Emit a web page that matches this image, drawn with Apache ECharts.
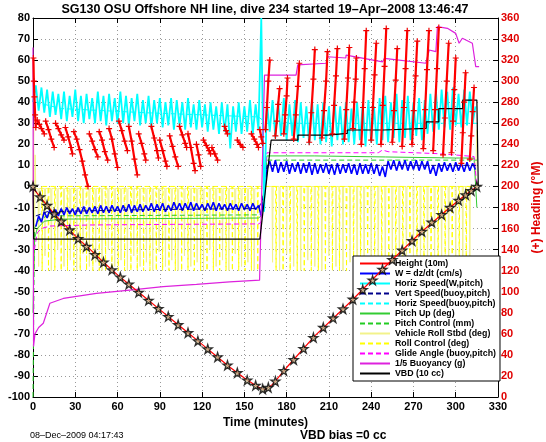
<!DOCTYPE html>
<html><head><meta charset="utf-8">
<script src="https://cdn.jsdelivr.net/npm/echarts/dist/echarts.min.js"></script>
<style>html,body{margin:0;padding:0;background:#fff}#c{width:546px;height:442px}</style>
</head><body><div id="c"></div>
<script>
// ---------- DATA ----------
const xTicks = [0,30,60,90,120,150,180,210,240,270,300,330];
const leftTicks = [80,70,60,50,40,30,20,10,0,-10,-20,-30,-40,-50,-60,-70,-80,-90,-100];
const rightTicks = [360,340,320,300,280,260,240,220,200,180,160,140,120,100,80,60,40,20,0];

// sample times (minutes) for the dense, noisy traces
const minutes = [0,2,4,6,8,10,12,14,16,18, 20,22,24,26,28,30,32,34,36,38,
 40,42,44,46,48,50,52,54,56,58, 60,62,64,66,68,70,72,74,76,78,
 80,82,84,86,88,90,92,94,96,98, 100,102,104,106,108,110,112,114,116,118,
 120,122,124,126,128,130,132,134,136,138, 140,142,144,146,148,150,152,154,156,158,
 160,162,164,166,168,170,172,174,176,178, 180,182,184,186,188,190,192,194,196,198,
 200,202,204,206,208,210,212,214,216,218, 220,222,224,226,228,230,232,234,236,238,
 240,242,244,246,248,250,252,254,256,258, 260,262,264,266,268,270,272,274,276,278,
 280,282,284,286,288,290,292,294,296,298, 300,302,304,306,308,310,312,314,316];

// Horiz Speed (W,pitch) cm/s
const horizSpeedW = [40,48,36,47,35,46,33,45,34,44, 32,45,31,43,33,46,31,43,30,44,
 32,42,30,45,31,43,29,44,31,42, 30,45,30,43,29,42,31,44,29,41,
 30,43,28,41,30,42,28,40,29,42, 27,41,29,40,27,42,28,39,27,41,
 28,39,26,40,27,38,25,40,26,39, 18,38,26,40,25,38,26,41,25,39,
 27,80,-12,40,26,41,23,40,24,42, 22,39,24,41,21,40,23,38,20,41,
 22,39,20,40,21,38,19,41,22,38, 20,40,21,37,20,40,22,39,19,41,
 21,38,20,42,22,43,21,40,23,44, 21,41,23,43,22,40,24,42,22,41,
 25,44,26,45,27,46,28,45,27,47, 29,44,28,46,29,45,30,38,null];

// W = dz/dt cm/s
const wSpeed = [null,-19,-14,-17,-12,-15,-11,-14,-11,-14, -10.5,-13.5,-10,-13,-10.5,-13.5,-10,-13,-9.5,-13,
 -10,-12.5,-9.5,-13,-9,-12.5,-9.5,-12.5,-9,-12, -9.5,-12.5,-9,-12,-8.5,-12.5,-9,-12,-8.5,-12,
 -9,-11.5,-8,-12,-8.5,-11.5,-8,-12,-9,-11.5, -7.5,-11,-8,-11.5,-8,-11,-7.5,-11.5,-8,-11,
 -8.5,-11.5,-8,-11,-7.5,-11.5,-8,-11,-8.5,-11.5, -8,-11,-8.5,-11.5,-8,-11,-8.5,-11.5,-8,-11,
 -9,-14,-5,8,12,7,12.5,6.5,11.5,7, 12,6,11,7,11.5,6,11,6.5,11.5,5.5,
 11,6,10.5,6.5,11,6,10.5,5.5,11,6, 10.5,6.5,11,6,10.5,5.5,11,6,10.5,6,
 11,6,10.5,5,9.5,4.5,12,8,12.5,7.5, 12,8,12.5,7.5,12,8,12.5,7.5,12,8,
 12,6,10,5,11,7,11.5,7.5,11,7, 11.5,7.5,11,7,11.5,7.5,11,8,null];

// [minute, value] traces
const heightTrace = [[0,0],[2,-2.5],[5,-5],[10,-9],[15,-13],[20,-16.5],[25,-20],[33,-25.5],[40,-29.5],[50,-36],
 [60,-42],[70,-47.5],[80,-53],[90,-58.5],[100,-64],[110,-69.5],[120,-75],[130,-80.5],[140,-86],[150,-91],
 [158,-94.5],[162,-96],[165,-96.5],[170,-94],[180,-86],[200,-71],[225,-55],[250,-38],[275,-22],[295,-10.5],[305,-5],[315,0]];
const heightMarks = [[0,0],[5,-5],[10,-9],[15,-13],[20,-16.5],[26,-20.7],[32,-24.8],[38,-28.5],[44,-32.4],[50,-36],
 [56,-39.6],[62,-43.1],[68,-46.4],[75,-50.3],[82,-54.1],[89,-58],[96,-61.8],[103,-65.7],[110,-69.5],[117,-73.4],
 [124,-77.2],[131,-81],[138,-84.9],[145,-88.5],[152,-92],[158,-94.5],[163,-96.2],[167,-95.5],[172,-92.5],[178,-87.5],
 [185,-82.3],[192,-77],[199,-71.8],[206,-67],[213,-62.5],[220,-58.2],[227,-53.6],[234,-49],[241,-44.5],[248,-39.4],
 [255,-34.8],[262,-30.3],[269,-25.8],[276,-21.4],[283,-17],[290,-13.4],[296,-10],[302,-6.6],[307,-4],[311,-2],[315,0]];
const vertSpeedBuoy = [[2,-14],[10,-12],[80,-11],[160,-10.5],[163,-6],[166,10],[315,10]];
const horizSpeedBuoy = [[2,40],[20,37],[80,35],[160,33],[166,30],[315,30]];
const pitchUp = [[0,-60],[1,-25],[3,-20],[8,-16.5],[20,-15.5],[100,-15.2],[160,-15],[162,-14],[166,14.5],[200,14.5],[250,14],[300,13.5],[313,13.5],[315,-10]];
const pitchControl = [[0,-100],[0.5,-100],[1,-20],[4,-16],[10,-14],[160,-13.5],[162,-13],[166,12.5],[315,12.5]];
const glideAngle = [[1,-30],[3,-22],[6,-20],[12,-18.8],[40,-18.3],[100,-18],[160,-17.8],[162,-17],[166,16],[200,16],[245,16],[248,17.3],[252,16.5],[290,15.5],[313,14.2],[315,0]];
const buoyancy = [[0,66],[0.4,-76],[1.4,-70],[4,-67],[7.3,-65],[12,-55.5],[21.5,-53.2],[45,-50.8],[68.7,-49.2],[92.3,-47.6],
 [116,-46.5],[139.5,-45.3],[160.8,-44.5],[162,-44.5],[164.3,52.9],[186.7,52.9],[187.9,57.7],[208,58.5],[209.1,61.6],[222,61],
 [222.2,62.4],[248.1,59.2],[249.3,60.8],[278.8,58.5],[281.2,64.8],[285.9,64],[287,75.9],[294.1,75.1],[300,72.7],[302.4,68],
 [304.7,70.4],[311.8,68],[314.2,56.9],[316.6,56.9]];
const vbd = [[0,0],[0.5,-25],[161,-25],[169,22],[188,22],[188,24.4],[209,24.4],[209,25.2],[223,25.2],[223,26.8],
 [249,26.8],[249,27.6],[279,27.6],[279,30.7],[288,30.7],[288,37],[305,37],[305,41],[315,41],[316,0]];
const rollVehicle = [[0,0],[0.5,28],[1,-40],[1.5,15],[2,-1],
 [3.6,-1],[4,-38],[4.4,-1],[8.1,-1],[8.5,-33],[8.9,-1],[12.6,-1],[13,-40],[13.4,-1],[17.1,-1],[17.5,-30],[17.9,-1],
 [21.6,-1],[22,-38],[22.4,-1],[26.1,-1],[26.5,-35],[26.9,-1],[30.6,-1],[31,-40],[31.4,-1],[35.1,-1],[35.5,-32],[35.9,-1],
 [39.6,-1],[40,-38],[40.4,-1],[44.1,-1],[44.5,-36],[44.9,-1],[48.6,-1],[49,-40],[49.4,-1],[53.1,-1],[53.5,-30],[53.9,-1],
 [57.6,-1],[58,-38],[58.4,-1],[62.1,-1],[62.5,-35],[62.9,-1],[66.6,-1],[67,-40],[67.4,-1],[71.1,-1],[71.5,-33],[71.9,-1],
 [75.6,-1],[76,-38],[76.4,-1],[80.1,-1],[80.5,-36],[80.9,-1],[84.6,-1],[85,-40],[85.4,-1],[89.1,-1],[89.5,-31],[89.9,-1],
 [93.6,-1],[94,-38],[94.4,-1],[98.1,-1],[98.5,-35],[98.9,-1],[102.6,-1],[103,-40],[103.4,-1],[107.1,-1],[107.5,-33],[107.9,-1],
 [111.6,-1],[112,-38],[112.4,-1],[116.1,-1],[116.5,-36],[116.9,-1],[120.6,-1],[121,-40],[121.4,-1],[125.1,-1],[125.5,-30],[125.9,-1],
 [129.6,-1],[130,-38],[130.4,-1],[134.1,-1],[134.5,-35],[134.9,-1],[138.6,-1],[139,-40],[139.4,-1],[143.1,-1],[143.5,-32],[143.9,-1],
 [147.6,-1],[148,-38],[148.4,-1],[152.1,-1],[152.5,-36],[152.9,-1],[156.6,-1],[157,-40],[157.4,-1],[162,-1],[166,0],
 [169.6,0],[170,-36],[170.4,0],[174.6,0],[175,-40],[175.4,0],[179.6,0],[180,-32],[180.4,0],[184.6,0],[185,-38],[185.4,0],
 [189.6,0],[190,-40],[190.4,0],[194.6,0],[195,-35],[195.4,0],[199.6,0],[200,-38],[200.4,0],[204.6,0],[205,-40],[205.4,0],
 [209.6,0],[210,-33],[210.4,0],[214.6,0],[215,-38],[215.4,0],[219.6,0],[220,-40],[220.4,0],[224.6,0],[225,-36],[225.4,0],
 [229.6,0],[230,-38],[230.4,0],[234.6,0],[235,-40],[235.4,0],[239.6,0],[240,-34],[240.4,0],[244.6,0],[245,-38],[245.4,0],
 [249.6,0],[250,-40],[250.4,0],[254.6,0],[255,-36],[255.4,0],[259.6,0],[260,-38],[260.4,0],[264.6,0],[265,-40],[265.4,0],
 [269.6,0],[270,-33],[270.4,0],[274.6,0],[275,-38],[275.4,0],[279.6,0],[280,-40],[280.4,0],[284.6,0],[285,-36],[285.4,0],
 [289.6,0],[290,-38],[290.4,0],[294.6,0],[295,-40],[295.4,0],[299.6,0],[300,-35],[300.4,0],[304.6,0],[305,-38],[305.4,0],
 [309.6,0],[310,-40],[310.4,0],[314,0],[315,27]];
const rollControl = [[6.2,0],[6.5,-40],[6.8,0],[10.7,0],[11,-40],[11.3,0],[15.2,0],[15.5,-40],[15.8,0],[19.7,0],[20,-40],[20.3,0],
 [24.2,0],[24.5,-40],[24.8,0],[28.7,0],[29,-40],[29.3,0],[33.2,0],[33.5,-40],[33.8,0],[37.7,0],[38,-40],[38.3,0],
 [42.2,0],[42.5,-40],[42.8,0],[46.7,0],[47,-40],[47.3,0],[51.2,0],[51.5,-40],[51.8,0],[55.7,0],[56,-40],[56.3,0],
 [60.2,0],[60.5,-40],[60.8,0],[64.7,0],[65,-40],[65.3,0],[69.2,0],[69.5,-40],[69.8,0],[73.7,0],[74,-40],[74.3,0],
 [78.2,0],[78.5,-40],[78.8,0],[82.7,0],[83,-40],[83.3,0],[87.2,0],[87.5,-40],[87.8,0],[91.7,0],[92,-40],[92.3,0],
 [96.2,0],[96.5,-40],[96.8,0],[100.7,0],[101,-40],[101.3,0],[105.2,0],[105.5,-40],[105.8,0],[109.7,0],[110,-40],[110.3,0],
 [114.2,0],[114.5,-40],[114.8,0],[118.7,0],[119,-40],[119.3,0],[123.2,0],[123.5,-40],[123.8,0],[127.7,0],[128,-40],[128.3,0],
 [132.2,0],[132.5,-40],[132.8,0],[136.7,0],[137,-40],[137.3,0],[141.2,0],[141.5,-40],[141.8,0],[145.7,0],[146,-40],[146.3,0],
 [150.2,0],[150.5,-40],[150.8,0],[154.7,0],[155,-40],[155.3,0],[159.2,0],[159.5,-40],[159.8,0],[166,0],
 [172.2,0],[172.5,-40],[172.8,0],[177.2,0],[177.5,-40],[177.8,0],[182.2,0],[182.5,-40],[182.8,0],[187.2,0],[187.5,-40],[187.8,0],
 [192.2,0],[192.5,-40],[192.8,0],[197.2,0],[197.5,-40],[197.8,0],[202.2,0],[202.5,-40],[202.8,0],[207.2,0],[207.5,-40],[207.8,0],
 [212.2,0],[212.5,-40],[212.8,0],[217.2,0],[217.5,-40],[217.8,0],[222.2,0],[222.5,-40],[222.8,0],[227.2,0],[227.5,-40],[227.8,0],
 [232.2,0],[232.5,-40],[232.8,0],[237.2,0],[237.5,-40],[237.8,0],[242.2,0],[242.5,-40],[242.8,0],[247.2,0],[247.5,-40],[247.8,0],
 [252.2,0],[252.5,-40],[252.8,0],[257.2,0],[257.5,-40],[257.8,0],[262.2,0],[262.5,-40],[262.8,0],[267.2,0],[267.5,-40],[267.8,0],
 [272.2,0],[272.5,-40],[272.8,0],[277.2,0],[277.5,-40],[277.8,0],[282.2,0],[282.5,-40],[282.8,0],[287.2,0],[287.5,-40],[287.8,0],
 [292.2,0],[292.5,-40],[292.8,0],[297.2,0],[297.5,-40],[297.8,0],[302.2,0],[302.5,-40],[302.8,0],[307.2,0],[307.5,-40],[307.8,0],[313,0]];
// heading (degrees magnetic) on right axis; null separates sawtooth runs
const heading = [[0.3,322],[0.6,300],[1,285],[1.5,268],[2,256],null,
 [3,263],[4.5,259],[6,255],[8,250],null,[9,262],[11,254],[13,245],[15,237],null,
 [16,260],[18,255],[20,249],[22,244],null,[23,256],[25,247],[27,237],[28,231],null,
 [29,252],[31,245],[33,235],[35,224],[37,211],[39,200],null,[40,250],[42,243],[44,235],[46,228],null,
 [47,252],[49,244],[51,233],[53,225],null,[54,255],[56,245],[58,231],[60,218],null,
 [61,262],[63,253],[65,243],[67,234],null,[68,257],[70,243],[72,226],[74,211],null,
 [75,250],[77,241],[79,231],[80,225],null,[84,257],[86,246],[88,234],[89,227],null,
 [90,244],[92,234],[94,224],[95,219],null,[97,248],[99,238],[101,228],[103,219],null,
 [104,257],[106,249],[108,241],[109,237],null,[110,250],[112,237],[114,222],[115,215],null,
 [116,240],[117.5,230],[119,219],null,[121,244],[123,239],[125,234],[126,231],null,
 [127,237],[129,231],[131,225],null,[136,257],[137,253],[138,250],null,
 [145,244],[147,240],[149,237],null,[155,250],[157,245],[159,240],[160,237],null,
 [161,254],[162,247],[163,241],null,
 [165,254],[166,275],[167,300],[168,320],null,[172,248],[173,262],[174,278],[175,293],null,
 [178,250],[179,268],[180,286],[180.6,303],null,[185,245],[186.5,268],[188,295],[189,317],null,
 [196,242],[197.5,270],[199,302],[200,330],null,[205,246],[206.5,272],[208,300],[209,328],null,
 [212.5,250],[213.7,277],[215,305],[216,331],null,[221,245],[222.3,273],[223.5,303],[224.5,332],null,
 [227,255],[228,280],[229,302],[229.5,322],null,[233,240],[234.2,275],[235.4,312],[236.5,348],null,
 [240,244],[241.2,275],[242.4,306],[243.6,336],null,[247,240],[248.2,277],[249.5,314],[250.7,350],null,
 [255,242],[256.2,272],[257.4,301],[258.5,331],null,[262,238],[263.2,275],[264.4,312],[265.6,348],null,
 [269,240],[270.2,272],[271.5,305],[272.7,338],null,[277,236],[278.3,273],[279.6,311],[281,348],null,
 [284,234],[285.3,273],[286.7,312],[288,351],null,[291,230],[292.3,265],[293.6,300],[295,336],null,
 [297,232],[298,262],[299,292],[300,322],null,[304,222],[305,251],[306,280],[307,308],null,
 [310,226],[311,248],[312,271],[313,294]];

const legendNames = ['Height (10m)','W = dz/dt (cm/s)','Horiz Speed(W,pitch)','Vert Speed(buoy,pitch)',
 'Horiz Speed(buoy,pitch)','Pitch Up (deg)','Pitch Control (mm)','Vehicle Roll Stbd (deg)',
 'Roll Control (deg)','Glide Angle (buoy,pitch)','1/5 Buoyancy (g)','VBD (10 cc)'];

// ---------- CHART ----------
const FONT = '"Liberation Sans", Arial, Helvetica, sans-serif';
const pairs = arr => minutes.map((t,i)=> arr[i]==null ? [t,'-'] : [t,arr[i]]);
function ln(name, data, color, width, dashed, z){
  return {name, type:'line', data, symbol:'none', z: z||2, animation:false,
    lineStyle:{color, width, type: dashed ? [5,3] : 'solid'}, itemStyle:{color}, connectNulls:false};
}
const PLUS = 'path://M2,0H3V2H5V3H3V5H2V3H0V2H2Z';
const STAR = 'path://M50,0L61,35L98,35L68,57L79,91L50,70L21,91L32,57L2,35L39,35Z';

const chart = echarts.init(document.getElementById('c'), null, {renderer:'canvas'});
chart.setOption({
  animation:false,
  backgroundColor:'#fff',
  grid:{left:33, right:48, top:18, bottom:45, containLabel:false, outerBoundsMode:'none'},
  legend:{
    data: legendNames, orient:'vertical', left:353, top:256,
    itemWidth:30, itemHeight:10, itemGap:1, padding:[3,4,3,6],
    backgroundColor:'#fff', borderColor:'#000', borderWidth:1,
    itemStyle:{opacity:0},
    textStyle:{fontFamily:FONT, fontWeight:'bold', fontSize:8.8, color:'#000'},
    selectedMode:false
  },
  xAxis:[{
    type:'value', min:0, max:330, interval:30, position:'bottom',
    axisLine:{show:true, onZero:false, lineStyle:{color:'#000', width:1}},
    axisTick:{show:true, inside:true, length:5, lineStyle:{color:'#000'}},
    axisLabel:{color:'#000', fontFamily:FONT, fontWeight:'bold', fontSize:11, margin:4,
      formatter: v => xTicks.includes(v) ? String(v) : ''},
    splitLine:{show:true, lineStyle:{color:'#999', type:[1,3], width:1}},
    name:'Time (minutes)', nameLocation:'middle', nameGap:19,
    nameTextStyle:{color:'#000', fontFamily:FONT, fontWeight:'bold', fontSize:12}
  },{
    type:'value', min:0, max:330, interval:30, position:'top',
    axisLine:{show:true, onZero:false, lineStyle:{color:'#000', width:1}},
    axisTick:{show:true, inside:true, length:5, lineStyle:{color:'#000'}},
    axisLabel:{show:false}, splitLine:{show:false}
  }],
  yAxis:[{
    type:'value', min:-100, max:80, interval:10, position:'left',
    axisLine:{show:true, onZero:false, lineStyle:{color:'#000', width:1}},
    axisTick:{show:true, inside:true, length:5, lineStyle:{color:'#000'}},
    axisLabel:{color:'#000', fontFamily:FONT, fontWeight:'bold', fontSize:11, margin:3,
      formatter: v => leftTicks.includes(v) ? String(v) : ''},
    splitLine:{show:true, lineStyle:{color:'#999', type:[1,3], width:1}}
  },{
    type:'value', min:0, max:360, interval:20, position:'right',
    axisLine:{show:true, onZero:false, lineStyle:{color:'#000', width:1}},
    axisTick:{show:true, inside:true, length:5, lineStyle:{color:'#000'}},
    axisLabel:{color:'#e00000', fontFamily:FONT, fontWeight:'bold', fontSize:11, margin:3,
      formatter: v => rightTicks.includes(v) ? String(v) : ''},
    splitLine:{show:false},
    name:'(+) Heading (\u00B0M)', nameLocation:'middle', nameGap:30, nameRotate:90,
    nameTextStyle:{color:'#e00000', fontFamily:FONT, fontWeight:'bold', fontSize:12}
  }],
  graphic:[
    {type:'text', x:265, y:3, style:{text:'SG130 OSU Offshore NH line, dive 234 started 19\u2013Apr\u20132008 13:46:47',
      font:'bold 12.5px '+FONT, fill:'#000', textAlign:'center'}},
    {type:'text', x:30, y:431, style:{text:'08\u2013Dec\u20132009 04:17:43', font:'9px '+FONT, fill:'#000'}},
    {type:'text', x:300, y:430, style:{text:'VBD bias =0 cc', font:'bold 12px '+FONT, fill:'#000'}}
  ],
  series:[
    ln('Vehicle Roll Stbd (deg)', rollVehicle, '#f2f28a', 1, false, 1),
    ln('Roll Control (deg)', rollControl, '#ffff00', 1, true, 1),
    ln('Pitch Control (mm)', pitchControl, '#22cc22', 1, true, 2),
    ln('Pitch Up (deg)', pitchUp, '#33cc33', 1, false, 2),
    ln('Glide Angle (buoy,pitch)', glideAngle, '#ff00ff', 1, true, 2),
    ln('W = dz/dt (cm/s)', pairs(wSpeed), '#0000ff', 1.6, false, 3),
    ln('Vert Speed(buoy,pitch)', vertSpeedBuoy, '#00008b', 1, true, 3),
    ln('Horiz Speed(W,pitch)', pairs(horizSpeedW), '#00ffff', 1.8, false, 3),
    ln('Horiz Speed(buoy,pitch)', horizSpeedBuoy, '#00ffff', 1, true, 3),
    ln('1/5 Buoyancy (g)', buoyancy, '#dd22dd', 1.2, false, 4),
    ln('VBD (10 cc)', vbd, '#000000', 1.2, false, 4),
    ln('Height (10m)', heightTrace, '#ff0000', 1.2, false, 5),
    {name:'heightMarks', type:'scatter', data:heightMarks, symbol:STAR, symbolSize:9, z:6,
      itemStyle:{color:'#c9b98f', borderColor:'#000', borderWidth:1.3}},
    {name:'heading', type:'line', yAxisIndex:1, data:heading, symbol:PLUS, symbolSize:6, showSymbol:true,
      z:7, connectNulls:false, lineStyle:{color:'#ff0000', width:2.2}, itemStyle:{color:'#ee0000'}}
  ]
});
</script></body></html>
